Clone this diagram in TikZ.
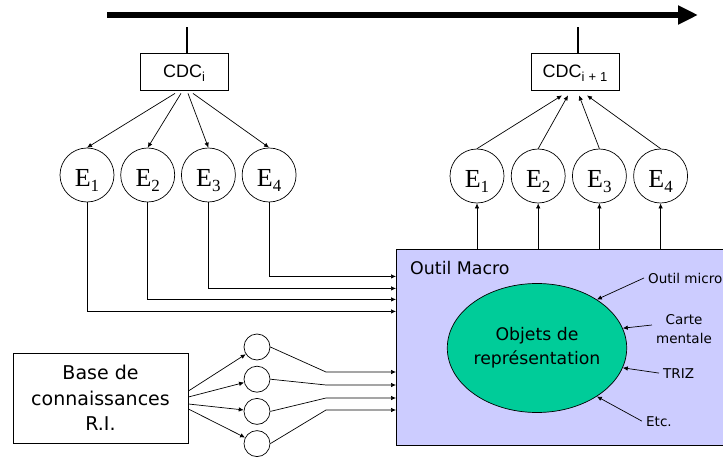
\documentclass[tikz,border=0pt]{standalone}
\usepackage{fontspec}
\setmainfont{DejaVu Sans}
\newfontfamily\arialfont{Liberation Sans}
\newfontfamily\timesfont{Liberation Serif}
\usepackage{tikz}
\usetikzlibrary{arrows.meta,positioning,shapes.geometric}
\definecolor{macroblue}{RGB}{204,204,255}
\definecolor{objgreen}{RGB}{0,204,153}
\newcommand{\esub}[1]{\rule{0pt}{23pt}\raisebox{-5pt}[0pt][0pt]{\fontsize{17}{17}\selectfont #1}}
\newcommand{\csub}[1]{\raisebox{-4pt}[0pt][0pt]{\fontsize{13}{13}\selectfont #1}}

\begin{document}
\begin{tikzpicture}[
  x=1pt,y=1pt,
  node distance=6pt,
  cdcbox/.style={draw,line width=0.8pt,minimum width=88pt,minimum height=37pt,
    inner sep=0pt,font=\arialfont\fontsize{18}{18}\selectfont},
  ecirc/.style={draw,circle,line width=0.7pt,minimum size=54pt,inner sep=0pt,
    font=\timesfont\fontsize{26}{26}\selectfont},
  kcirc/.style={draw,circle,line width=0.7pt,minimum size=26pt,inner sep=0pt},
  lbl/.style={font=\fontsize{13.5}{19}\selectfont,inner sep=4pt,align=center},
  arrow/.style={-{Latex[length=5pt,width=4.5pt]},line width=0.7pt},
  tick/.style={line width=1.5pt},
  timeline/.style={-{Triangle[length=20pt,width=18pt]},line width=6pt}
]
\useasboundingbox (0,0) rectangle (723,456);

% time axis
\coordinate (t0) at (107,441);
\coordinate (t1) at (698,441);
\draw[timeline] (t0) -- (t1);

% specifications
\node[cdcbox] (cdci) at (184,384.5) {CDC\csub{i}};
\node[cdcbox] (cdcn) at (575,384.5) {CDC\csub{i\hspace{4pt}+\hspace{4pt}1}};
\draw[tick] ([xshift=3pt]cdci.north) -- ++(0,26);
\draw[tick] ([xshift=3pt]cdcn.north) -- ++(0,26);

% left row of E
\node[ecirc] (el1) at (87,281) {E\esub{1}};
\node[ecirc,right=of el1] (el2) {E\esub{2}};
\node[ecirc,right=of el2] (el3) {E\esub{3}};
\node[ecirc,right=of el3] (el4) {E\esub{4}};

% right row of E
\node[ecirc] (er1) at (477,280) {E\esub{1}};
\node[ecirc,right=6.5pt of er1] (er2) {E\esub{2}};
\node[ecirc,right=6.5pt of er2] (er3) {E\esub{3}};
\node[ecirc,right=6.5pt of er3] (er4) {E\esub{4}};

\draw[arrow] ([xshift=-9pt,yshift=-3pt]cdci.south) -- (el1.north);
\draw[arrow] ([xshift=-3pt,yshift=-3pt]cdci.south) -- (el2.north);
\draw[arrow] ([xshift=4pt,yshift=-3pt]cdci.south) -- (el3.north);
\draw[arrow] ([xshift=9pt,yshift=-3pt]cdci.south) -- (el4.north);

\draw[arrow] (er1.north) -- ([xshift=-13pt,yshift=-5pt]cdcn.south);
\draw[arrow] (er2.north) -- ([xshift=-7pt,yshift=-5pt]cdcn.south);
\draw[arrow] (er3.north) -- ([xshift=4pt,yshift=-5pt]cdcn.south);
\draw[arrow] (er4.north) -- ([xshift=12pt,yshift=-5pt]cdcn.south);

% macro tool
\node[draw,fill=macroblue,line width=0.8pt,minimum width=340pt,minimum height=196pt,
  inner sep=0pt,anchor=north west] (macro) at (396,207) {};
\node[anchor=base west,inner sep=0pt,font=\fontsize{17.4}{20}\selectfont]
  (macrolbl) at (410,182) {Outil Macro};
\node[draw,ellipse,fill=objgreen,line width=0.7pt,minimum width=148pt,minimum height=129pt,
  inner sep=0pt,align=center,font=\fontsize{17.3}{24}\selectfont]
  (objets) at (537,108) {Objets de\\représentation};

\draw[arrow] (el1.south) |- ([yshift=36pt]macro.west);
\draw[arrow] (el2.south) |- ([yshift=48pt]macro.west);
\draw[arrow] (el3.south) |- ([yshift=59pt]macro.west);
\draw[arrow] (el4.south) |- ([yshift=71pt]macro.west);

\draw[arrow] (er1 |- macro.north) -- (er1);
\draw[arrow] (er2 |- macro.north) -- (er2);
\draw[arrow] (er3 |- macro.north) -- (er3);
\draw[arrow] (er4 |- macro.north) -- (er4);

% micro tools
\node[lbl,anchor=base west] (micro) at (644,173) {Outil micro};
\node[lbl] (carte) at (684,127) {Carte\\mentale};
\node[lbl,anchor=base west] (triz) at (659,78) {TRIZ};
\node[lbl,anchor=base west] (etc) at (642,30) {Etc.};
\draw[arrow] (micro.west) -- (objets.39);
\draw[arrow] ([yshift=4pt]carte.west) -- (objets.13);
\draw[arrow] (triz.west) -- (objets.-13);
\draw[arrow] (etc.west) -- (objets.-39);

% knowledge base
\node[draw,line width=0.8pt,minimum width=175pt,minimum height=90pt,align=center,
  font=\fontsize{19}{25.5}\selectfont] (base) at (100.5,58) {Base de\\connaissances\\R.I.};
\node[kcirc] (k1) at (257,109) {};
\node[kcirc,below=5.5pt of k1] (k2) {};
\node[kcirc,below=5.5pt of k2] (k3) {};
\node[kcirc,below=5.5pt of k3] (k4) {};

\draw[arrow] ([yshift=7pt]base.east) -- (k1);
\draw[arrow] ([yshift=1pt]base.east) -- (k2);
\draw[arrow] ([yshift=-6pt]base.east) -- (k3);
\draw[arrow] ([yshift=-11pt]base.east) -- (k4);

\coordinate (j1) at (326,84);
\coordinate (j2) at (326,71);
\coordinate (j3) at (326,58);
\coordinate (j4) at (326,46);
\draw[arrow] (k1.east) -- (j1) -- (j1 -| macro.west);
\draw[arrow] (k2.east) -- (j2) -- (j2 -| macro.west);
\draw[arrow] (k3.east) -- (j3) -- (j3 -| macro.west);
\draw[arrow] (k4.east) -- (j4) -- (j4 -| macro.west);
\end{tikzpicture}
\end{document}
